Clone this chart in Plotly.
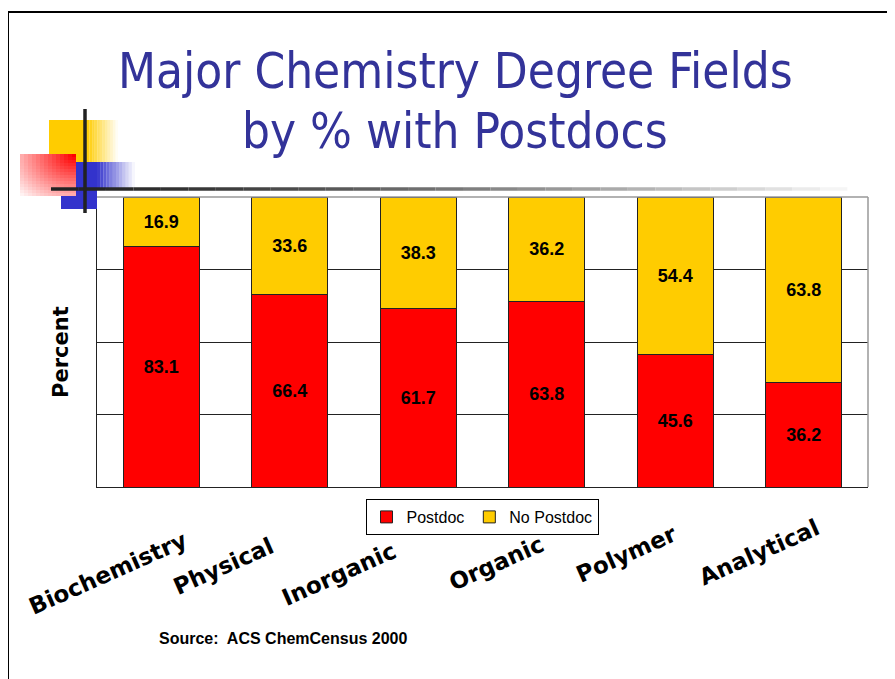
import plotly.graph_objects as go

# data
fields = ['Biochemistry', 'Physical', 'Inorganic', 'Organic', 'Polymer', 'Analytical']
postdoc = [83.1, 66.4, 61.7, 63.8, 45.6, 36.2]
no_postdoc = [16.9, 33.6, 38.3, 36.2, 54.4, 63.8]

OFF = 8  # page body margin, figure starts at (8, 8)
W, H = 895 - OFF, 679 - OFF
L, R, T, B = 97, 868, 197, 487  # plot area in screen pixels


def px(x, y):
    # screen pixel -> paper coords
    return (x - L) / (R - L), (B - y) / (B - T)


def rect(x0, y0, x1, y1, color, opacity=1.0):
    a, b = px(x0, y1)
    c, d = px(x1, y0)
    return dict(type='rect', xref='paper', yref='paper', x0=a, y0=b, x1=c, y1=d,
                fillcolor=color, opacity=opacity, line=dict(width=0), layer='above')


def line(x0, y0, x1, y1, color, width):
    a, b = px(x0, y0)
    c, d = px(x1, y1)
    return dict(type='line', xref='paper', yref='paper', x0=a, y0=b, x1=c, y1=d,
                line=dict(color=color, width=width), layer='above')


label_font = dict(family='Liberation Sans', size=18, color='black', weight='bold')

fig = go.Figure()
fig.add_trace(go.Bar(
    x=fields, y=postdoc, name='Postdoc',
    marker=dict(color='#FF0000', line=dict(color='#222222', width=1)),
    text=[f'{v:.1f}' for v in postdoc], textposition='inside', insidetextanchor='middle',
    textfont=label_font, textangle=0, hoverinfo='skip'))
fig.add_trace(go.Bar(
    x=fields, y=no_postdoc, name='No Postdoc',
    marker=dict(color='#FFCC00', line=dict(color='#222222', width=1)),
    text=[f'{v:.1f}' for v in no_postdoc], textposition='inside', insidetextanchor='middle',
    textfont=label_font, textangle=0, hoverinfo='skip'))

shapes = []
# slide frame
shapes.append(line(8, 12, 900, 12, 'black', 2))
shapes.append(line(8, 12, 8, 690, 'black', 2))
# plot border top/right (grey)
shapes.append(line(L, T, R, T, '#999999', 1.5))
shapes.append(line(R, T, R, B, '#999999', 1.5))

# decoration: yellow square with fade
shapes.append(rect(49, 120, 87, 162, '#FFCC00'))
n = 12
for i in range(n):
    x0 = 87 + (118 - 87) * i / n
    x1 = 87 + (118 - 87) * (i + 1) / n
    shapes.append(rect(x0, 120, x1, 162, '#FFCC00', 1 - (i + 0.5) / n))
# blue square with fade
shapes.append(rect(61, 162, 97, 209, '#3333CC'))
for i in range(n):
    x0 = 97 + (135 - 97) * i / n
    x1 = 97 + (135 - 97) * (i + 1) / n
    shapes.append(rect(x0, 162, x1, 189, '#3333CC', 1 - (i + 0.5) / n))
# red square, gradient from top-right corner
shapes.append(rect(20, 154, 76, 196, 'white'))
m = 14
for i in range(m):
    for j in range(m):
        x0 = 20 + 56 * i / m
        x1 = 20 + 56 * (i + 1) / m
        y0 = 154 + 42 * j / m
        y1 = 154 + 42 * (j + 1) / m
        d = ((m - 1 - i) ** 2 + j ** 2) ** 0.5 / ((m - 1) * 2 ** 0.5)
        shapes.append(rect(x0, y0, x1, y1, '#FF0000', max(0.04, 1 - 0.95 * d)))
# crosshair lines
k = 30
for i in range(k):
    x0 = 51 + (875 - 51) * i / k
    x1 = 51 + (875 - 51) * (i + 1) / k
    g = int(0x22 + (0xFF - 0x22) * (i / (k - 1)) ** 1.3)
    shapes.append(line(x0, 189, x1, 189, f'rgb({g},{g},{g})', 3.5))
shapes.append(line(85, 109, 85, 213, '#222222', 3.5))

title_font = dict(family='DejaVu Sans Condensed, DejaVu Sans', size=49, color='#333399')
annotations = []
# title, two lines placed separately for the slide's line spacing
annotations.append(dict(
    text='Major Chemistry Degree Fields', xref='paper', yref='paper',
    x=px(455, 0)[0], y=px(0, 90)[1], xanchor='center', yanchor='bottom',
    yshift=-12, showarrow=False, font=title_font))
annotations.append(dict(
    text='by % with Postdocs', xref='paper', yref='paper',
    x=px(455, 0)[0], y=px(0, 150)[1], xanchor='center', yanchor='bottom',
    yshift=-12, showarrow=False, font=title_font))
# y title
annotations.append(dict(
    text='<b>Percent</b>', xref='paper', yref='paper',
    x=px(61, 0)[0], y=px(0, 352)[1], textangle=-90, showarrow=False,
    xanchor='center', yanchor='middle',
    font=dict(family='DejaVu Sans', size=21, color='black')))
# rotated category labels
label_shift = [(-53, 573), (-66, 566), (-79, 574), (-50, 563), (-49, 554), (-44, 552)]
for f, (dx, yc) in zip(fields, label_shift):
    annotations.append(dict(
        text=f'<b>{f}</b>', xref='x', yref='paper', x=f, y=px(0, yc)[1],
        xshift=dx, textangle=-24, showarrow=False, xanchor='center', yanchor='middle',
        font=dict(family='DejaVu Sans', size=23, color='black')))
# source
annotations.append(dict(
    text='<b>Source:  ACS ChemCensus 2000</b>', xref='paper', yref='paper',
    x=px(157, 0)[0], y=px(0, 638)[1], xanchor='left', yanchor='middle',
    showarrow=False, font=dict(family='Liberation Sans', size=16, color='black')))

fig.update_layout(
    width=W, height=H,
    margin=dict(l=L - OFF, r=W - (R - OFF), t=T - OFF, b=H - (B - OFF)),
    paper_bgcolor='white', plot_bgcolor='white',
    barmode='stack', bargap=0.41,
    showlegend=True,
    legend=dict(orientation='h', x=px(482, 0)[0], xanchor='center', y=px(0, 499)[1],
                yanchor='top', traceorder='normal',
                bordercolor='black', borderwidth=1, bgcolor='white',
                font=dict(family='Liberation Sans', size=16, color='black'),
                itemwidth=30),
    xaxis=dict(showticklabels=False, showline=True, linecolor='#222222', linewidth=1,
               ticks='', showgrid=False, range=[-0.5, 5.5],
               categoryorder='array', categoryarray=fields),
    yaxis=dict(range=[0, 100], dtick=25, showticklabels=False, showline=True,
               linecolor='#222222', linewidth=1, showgrid=True, gridcolor='#222222',
               gridwidth=1, zeroline=False, ticks=''),
    shapes=shapes, annotations=annotations,
)

fig.write_html('out.html')
